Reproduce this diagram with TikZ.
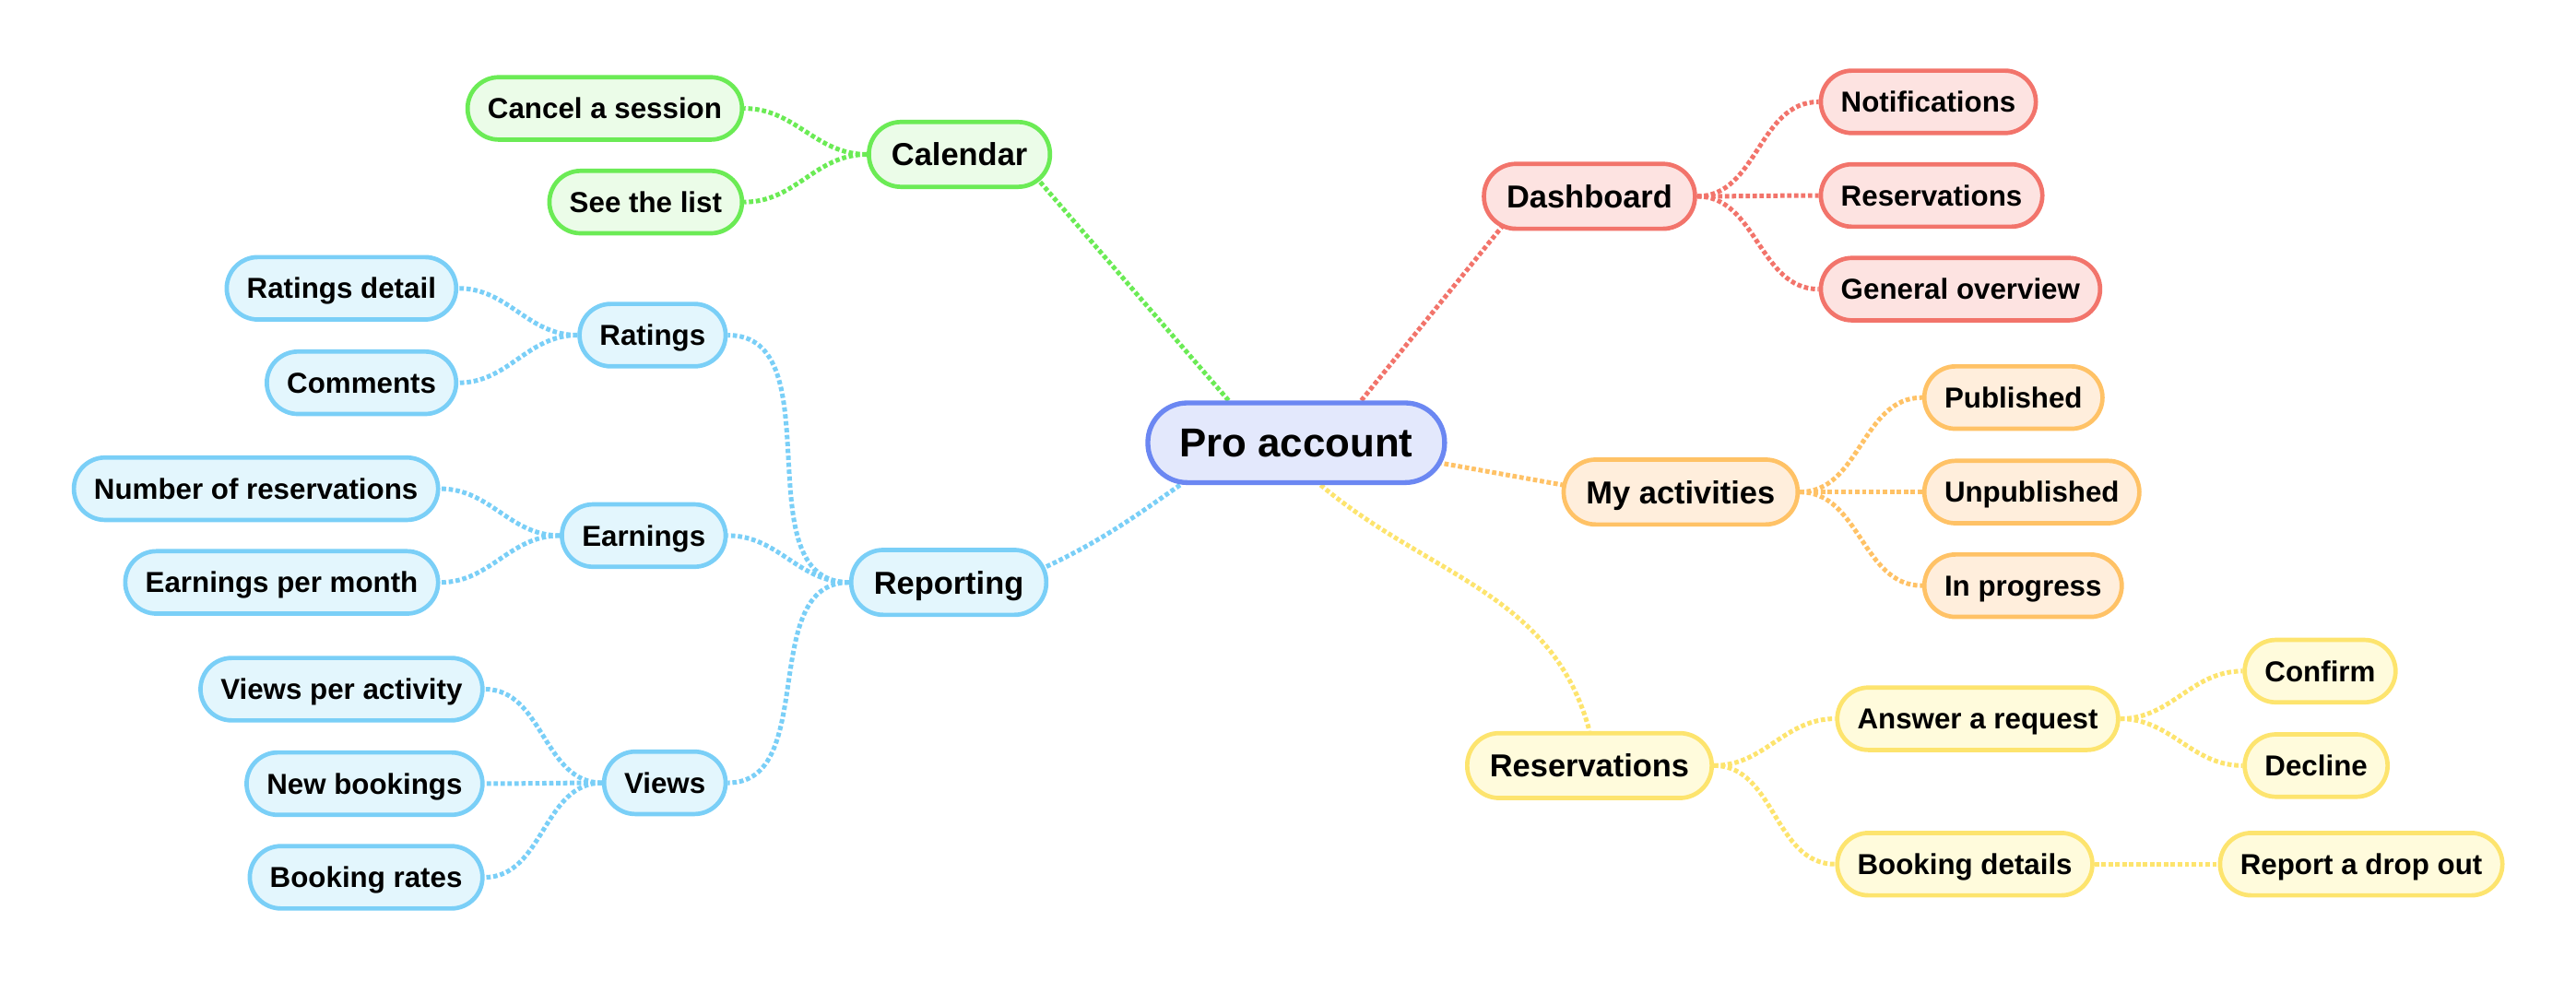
\documentclass[tikz,border=0pt]{standalone}
\usepackage{fontspec}
\setmainfont{Liberation Sans}
\usetikzlibrary{positioning, calc, backgrounds}

\definecolor{rootline}{HTML}{6B87F2}
\definecolor{rootfill}{HTML}{E3E8FC}
\definecolor{calline}{HTML}{6BEB55}
\definecolor{calfill}{HTML}{EBFCE8}
\definecolor{dashline}{HTML}{F2746B}
\definecolor{dashfill}{HTML}{FDE3E1}
\definecolor{actline}{HTML}{FFC266}
\definecolor{actfill}{HTML}{FFEEDC}
\definecolor{resvline}{HTML}{FDE46E}
\definecolor{resvfill}{HTML}{FFFBDC}
\definecolor{repline}{HTML}{7ACFF7}
\definecolor{repfill}{HTML}{E3F6FD}

\begin{document}
\begin{tikzpicture}[x=0.02cm, y=-0.02cm]
	\tikzset{
		topic/.style={draw, line width=1.5pt, rounded corners=0.38cm, minimum height=0.76cm, inner xsep=0.245cm, inner ysep=0pt, text height=7.2pt, text depth=0pt, font=\fontsize{10}{12}\selectfont\bfseries},
		branch/.style={topic, rounded corners=0.39cm, minimum height=0.79cm, inner xsep=0.275cm, text height=7.9pt, font=\fontsize{11}{13}\selectfont\bfseries},
		central/.style={topic, line width=1.7pt, rounded corners=0.48cm, minimum height=0.97cm, inner xsep=0.385cm, text height=10pt, font=\fontsize{14}{17}\selectfont\bfseries, draw=rootline, fill=rootfill},
		link/.style={line width=1.6pt, dash pattern=on 1.5pt off 0.9pt},
		calnode/.style={draw=calline, fill=calfill},
		dashnode/.style={draw=dashline, fill=dashfill},
		actnode/.style={draw=actline, fill=actfill},
		resvnode/.style={draw=resvline, fill=resvfill},
		repnode/.style={draw=repline, fill=repfill}
	}
	\useasboundingbox (0,0) rectangle (1568,597);

	\node[central] (root) at (789,269.5) {Pro account};

	% Calendar
	\node[branch, calnode] (cal) at (584,94) {Calendar};
	\foreach \nm/\txt/\y in {cancel/Cancel a session/66, seelist/See the list/123}
		\node[topic, calnode, anchor=east] (\nm) at (453,\y) {\txt};

	% Dashboard
	\node[branch, dashnode] (dash) at (967.5,119.5) {Dashboard};
	\foreach \nm/\txt/\y in {notif/Notifications/62, dresv/Reservations/119, overview/General overview/176}
		\node[topic, dashnode, anchor=west] (\nm) at (1107,\y) {\txt};

	% My activities
	\node[branch, actnode] (act) at (1023,299.5) {My activities};
	\foreach \nm/\txt/\y in {pub/Published/242, unpub/Unpublished/299.5, prog/In progress/356.5}
		\node[topic, actnode, anchor=west] (\nm) at (1170,\y) {\txt};

	% Reservations
	\node[branch, resvnode] (book) at (967.5,466) {Reservations};
	\node[topic, resvnode, anchor=west] (answer) at (1117,437.5) {Answer a request};
	\node[topic, resvnode, anchor=west] (details) at (1117,526) {Booking details};
	\node[topic, resvnode, anchor=west] (confirm) at (1365,408.5) {Confirm};
	\node[topic, resvnode, anchor=west] (decline) at (1365,466) {Decline};
	\node[topic, resvnode, anchor=west] (dropout) at (1350,526) {Report a drop out};

	% Reporting
	\node[branch, repnode] (rep) at (577.5,354.5) {Reporting};
	\foreach \nm/\txt/\y in {ratings/Ratings/204, earn/Earnings/326, views/Views/476.5}
		\node[topic, repnode, anchor=east] (\nm) at (443,\y) {\txt};
	\foreach \nm/\txt/\y in {rdetail/Ratings detail/175.5, comments/Comments/233}
		\node[topic, repnode, anchor=east] (\nm) at (279,\y) {\txt};
	\foreach \nm/\txt/\y in {numres/Number of reservations/297.5, epm/Earnings per month/354.5}
		\node[topic, repnode, anchor=east] (\nm) at (268,\y) {\txt};
	\foreach \nm/\txt/\y in {vpa/Views per activity/419.5, newb/New bookings/477, brates/Booking rates/534}
		\node[topic, repnode, anchor=east] (\nm) at (295,\y) {\txt};

	% links
	\begin{scope}[on background layer]
		\draw[link, calline] (root.148) -- ($(cal.center)+(45,12)$);
		\draw[link, dashline] (root.33) -- ($(dash.center)+(-48,12)$);
		\draw[link, actline] ($(root.center)+(86,12)$) -- ($(act.center)+(-70,-4)$);
		\draw[link, resvline] (root.-60) to[out=-40, in=105] (book.north);
		\draw[link, repline] (root.200) to[out=215, in=25] ($(rep.center)+(56,-8)$);

		\foreach \nm in {cancel, seelist}
			\draw[link, calline] (cal.west) to[out=180, in=0] (\nm.east);
		\foreach \nm in {notif, dresv, overview}
			\draw[link, dashline] (dash.east) to[out=0, in=180] (\nm.west);
		\foreach \nm in {pub, unpub, prog}
			\draw[link, actline] (act.east) to[out=0, in=180] (\nm.west);
		\foreach \nm in {answer, details}
			\draw[link, resvline] (book.east) to[out=0, in=180] (\nm.west);
		\foreach \nm in {confirm, decline}
			\draw[link, resvline] (answer.east) to[out=0, in=180] (\nm.west);
		\draw[link, resvline] (details.east) -- (dropout.west);

		\foreach \nm in {ratings, earn, views}
			\draw[link, repline] (rep.west) to[out=180, in=0] (\nm.east);
		\foreach \nm in {rdetail, comments}
			\draw[link, repline] (ratings.west) to[out=180, in=0] (\nm.east);
		\foreach \nm in {numres, epm}
			\draw[link, repline] (earn.west) to[out=180, in=0] (\nm.east);
		\foreach \nm in {vpa, newb, brates}
			\draw[link, repline] (views.west) to[out=180, in=0] (\nm.east);
	\end{scope}
\end{tikzpicture}
\end{document}
